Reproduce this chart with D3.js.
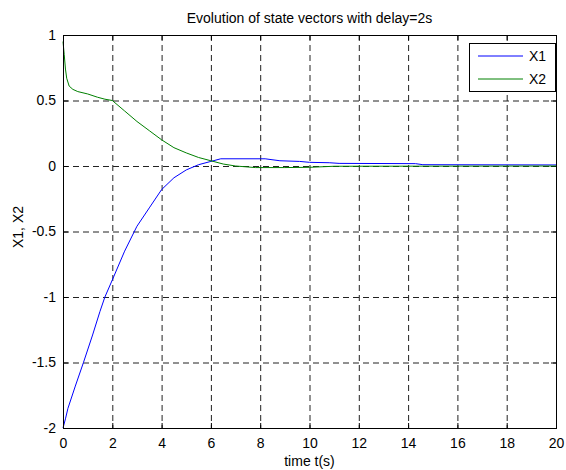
<!DOCTYPE html>
<html>
<head>
<meta charset="utf-8">
<script src="https://cdn.jsdelivr.net/npm/d3@7"></script>
<style>
  body { margin: 0; background: #fff; }
  svg { font-family: "Liberation Sans", Arial, sans-serif; }
</style>
</head>
<body>
<script>
const width = 566
const height = 470
const margin = { top: 35, right: 10, bottom: 42, left: 63 }

// data
const tX1 = [0, 0.1, 0.2, 0.5, 0.83, 1.2, 1.5, 1.7, 2, 2.5, 3, 3.5, 4, 4.5, 5, 5.5, 6, 6.4, 8.2, 8.8, 9.6, 10, 10.8, 11.2, 14.3, 14.6, 20]
const x1 = [-2, -1.93, -1.85, -1.68, -1.5, -1.29, -1.11, -1.0, -0.87, -0.65, -0.46, -0.32, -0.18, -0.09, -0.03, 0.01, 0.035, 0.055, 0.055, 0.04, 0.035, 0.028, 0.025, 0.02, 0.018, 0.01, 0.008]
const tX2 = [0, 0.05, 0.1, 0.15, 0.25, 0.4, 0.6, 1, 1.4, 1.7, 2, 2.5, 3, 3.5, 4, 4.5, 5, 5.5, 6, 6.5, 7, 7.8, 9, 10, 11, 20]
const x2 = [0.95, 0.85, 0.74, 0.67, 0.61, 0.585, 0.568, 0.55, 0.525, 0.51, 0.5, 0.42, 0.34, 0.27, 0.2, 0.14, 0.1, 0.065, 0.04, 0.015, 0.0, -0.012, -0.012, -0.01, -0.002, 0.0]
const xTicks = [0, 2, 4, 6, 8, 10, 12, 14, 16, 18, 20]
const yTicks = [-2, -1.5, -1, -0.5, 0, 0.5, 1]
const seriesNames = ["X1", "X2"]
const colors = ["#0000ff", "#008000"]

const svg = d3.select("body")
    .append("svg")
    .attr("width", width)
    .attr("height", height)

const w = width - margin.left - margin.right
const h = height - margin.top - margin.bottom

const x = d3.scaleLinear().domain([0, 20]).range([0, w])
const y = d3.scaleLinear().domain([-2, 1]).range([h, 0])

const chart = svg.append("g")
    .attr("transform", `translate(${margin.left},${margin.top})`)

// grid
chart.append("g")
    .selectAll("line")
    .data(xTicks.slice(1, -1))
    .join("line")
    .attr("x1", d => x(d) + 0.5).attr("x2", d => x(d) + 0.5)
    .attr("y1", 0).attr("y2", h)
    .attr("stroke", "#222").attr("stroke-dasharray", "6,4")
chart.append("g")
    .selectAll("line")
    .data(yTicks.slice(1, -1))
    .join("line")
    .attr("y1", d => y(d) + 0.5).attr("y2", d => y(d) + 0.5)
    .attr("x1", 0).attr("x2", w)
    .attr("stroke", "#222").attr("stroke-dasharray", "6,4")

// axes (ticks inside, matlab style)
const styleAxis = g => {
    g.select(".domain").remove()
    g.selectAll(".tick line").attr("stroke", "#000")
    g.selectAll("text").attr("fill", "#000").attr("font-size", 14)
}
chart.append("g")
    .attr("transform", `translate(0,${h})`)
    .call(d3.axisBottom(x).tickValues(xTicks).tickSizeInner(-5).tickPadding(10).tickFormat(d => String(d)))
    .call(styleAxis)
chart.append("g")
    .call(d3.axisTop(x).tickValues(xTicks).tickSizeInner(-5).tickFormat(""))
    .call(styleAxis)
chart.append("g")
    .call(d3.axisLeft(y).tickValues(yTicks).tickSizeInner(-5).tickPadding(7).tickFormat(d => String(d)))
    .call(styleAxis)
chart.append("g")
    .attr("transform", `translate(${w},0)`)
    .call(d3.axisRight(y).tickValues(yTicks).tickSizeInner(-5).tickFormat(""))
    .call(styleAxis)

// lines
const line = d3.line()
    .x(d => x(d[0]))
    .y(d => y(d[1]))
const series = [d3.zip(tX1, x1), d3.zip(tX2, x2)]
chart.selectAll("path.series")
    .data(series)
    .join("path")
    .attr("class", "series")
    .attr("d", line)
    .attr("fill", "none")
    .attr("stroke", (d, i) => colors[i])
    .attr("stroke-width", 1)

// frame
chart.append("rect")
    .attr("x", 0.5).attr("y", 0.5)
    .attr("width", w).attr("height", h)
    .attr("fill", "none").attr("stroke", "#000")

// legend
const legend = chart.append("g")
    .attr("transform", `translate(${w - 87},${8})`)
legend.append("rect")
    .attr("x", 0.5).attr("y", 0.5)
    .attr("width", 86).attr("height", 48)
    .attr("fill", "#fff").attr("stroke", "#000")
seriesNames.forEach((name, i) => {
    const yy = 13 + i * 23
    legend.append("line")
        .attr("x1", 9).attr("x2", 54)
        .attr("y1", yy).attr("y2", yy)
        .attr("stroke", colors[i])
    legend.append("text")
        .attr("x", 60).attr("y", yy)
        .attr("dy", "0.35em")
        .attr("font-size", 14)
        .text(name)
})

// titles
svg.append("text")
    .attr("x", margin.left + w / 2).attr("y", 23)
    .attr("text-anchor", "middle")
    .attr("font-size", 14)
    .text("Evolution of state vectors with delay=2s")
svg.append("text")
    .attr("x", margin.left + w / 2).attr("y", 466)
    .attr("text-anchor", "middle")
    .attr("font-size", 14)
    .text("time t(s)")
svg.append("text")
    .attr("transform", `translate(23,227) rotate(-90)`)
    .attr("text-anchor", "middle")
    .attr("font-size", 14)
    .text("X1, X2")
</script>
</body>
</html>
